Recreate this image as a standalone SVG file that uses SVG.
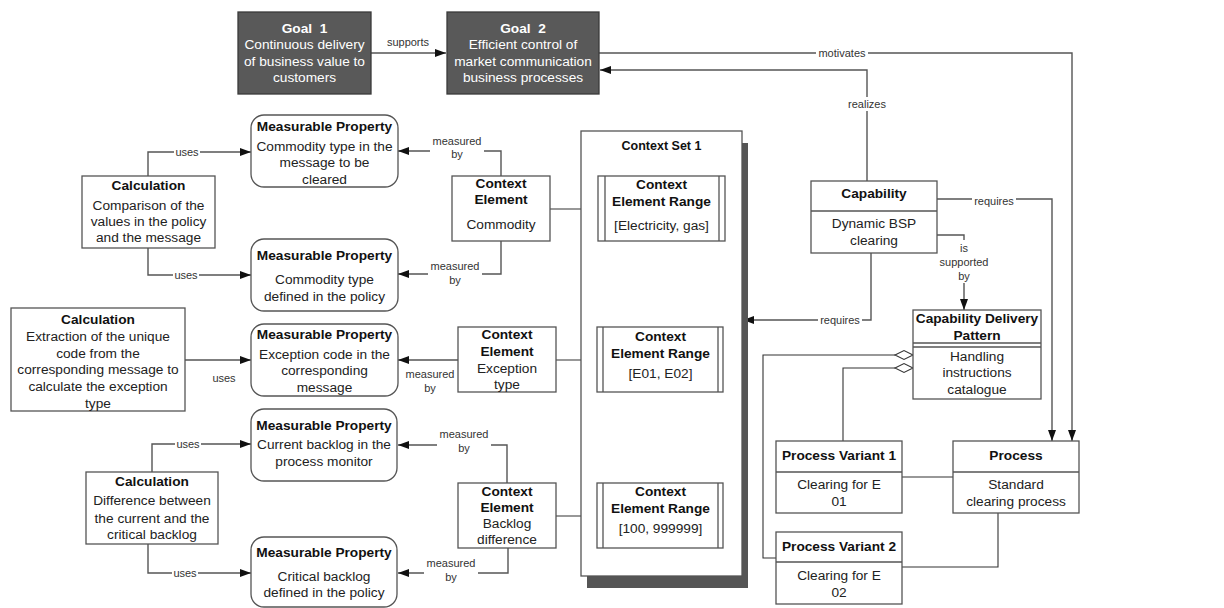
<svg xmlns="http://www.w3.org/2000/svg" width="1224" height="608" viewBox="0 0 1224 608">
<style>
.t{font-family:"Liberation Sans",Arial,sans-serif;font-size:13.7px;text-anchor:middle;fill:#222}
.b{font-weight:bold;fill:#111}
.w{fill:#fff}
.l{font-family:"Liberation Sans",Arial,sans-serif;font-size:11px;text-anchor:middle;fill:#333}
.box{fill:#fff;stroke:#555;stroke-width:1.3}
.goal{fill:#595959;stroke:#3a3a3a;stroke-width:1.3}
.c{fill:none;stroke:#555;stroke-width:1.4}
.k{fill:none;stroke:#333;stroke-width:1.1}
.lb{fill:#fff}
.dv{stroke:#555;stroke-width:1.3}
</style>
<defs>
<marker id="ah" markerUnits="userSpaceOnUse" markerWidth="11" markerHeight="8" refX="11" refY="4" orient="auto">
<path d="M0,0 L11,4 L0,8 z" fill="#111"/>
</marker>
</defs>

<g id="connectors">
<path class="c" d="M371,53 H446" marker-end="url(#ah)"/>
<text class="l" x="408" y="46">supports</text>
<path class="c" d="M599,53 H1072 V441" marker-end="url(#ah)"/>
<rect class="lb" x="816" y="47" width="52" height="12"/>
<text class="l" x="842" y="57">motivates</text>
<path class="c" d="M867,181 V70 H600" marker-end="url(#ah)"/>
<rect class="lb" x="845" y="97" width="44" height="14"/>
<text class="l" x="867" y="108">realizes</text>
<path class="c" d="M937,199 H1052 V441" marker-end="url(#ah)"/>
<rect class="lb" x="972" y="194" width="44" height="12"/>
<text class="l" x="994" y="205">requires</text>
<path class="c" d="M937,235 H964 V310" marker-end="url(#ah)"/>
<rect class="lb" x="938" y="240" width="52" height="43"/>
<text class="l" x="964" y="252">is</text>
<text class="l" x="964" y="266">supported</text>
<text class="l" x="964" y="280">by</text>
<path class="c" d="M871,253 V320 H743" marker-end="url(#ah)"/>
<rect class="lb" x="818" y="314" width="44" height="12"/>
<text class="l" x="840" y="324">requires</text>

<path class="k" d="M895,355 H763 V558 H776"/>
<path class="k" d="M895,368 H843 V441"/>
<polygon points="895,355 904,350.5 913,355 904,359.5" fill="#fff" stroke="#333" stroke-width="1.1"/>
<polygon points="895,368 904,363.5 913,368 904,372.5" fill="#fff" stroke="#333" stroke-width="1.1"/>
<path class="k" d="M902,477 H953"/>
<path class="k" d="M998,513 V567 H902"/>

<path class="k" d="M550,209 H598"/>
<path class="k" d="M556,360 H597"/>
<path class="k" d="M556,516 H597"/>

<path class="c" d="M501,176 V151 H398" marker-end="url(#ah)"/>
<rect class="lb" x="430" y="133" width="54" height="26"/>
<text class="l" x="457" y="145">measured</text>
<text class="l" x="457" y="158">by</text>
<path class="c" d="M501,241 V274 H398" marker-end="url(#ah)"/>
<rect class="lb" x="428" y="259" width="54" height="27"/>
<text class="l" x="455" y="270">measured</text>
<text class="l" x="455" y="284">by</text>
<path class="c" d="M458,360 H398" marker-end="url(#ah)"/>
<text class="l" x="430" y="378">measured</text>
<text class="l" x="430" y="392">by</text>
<path class="c" d="M507,483 V445 H398" marker-end="url(#ah)"/>
<rect class="lb" x="437" y="427" width="54" height="27"/>
<text class="l" x="464" y="438">measured</text>
<text class="l" x="464" y="452">by</text>
<path class="c" d="M508,548 V573 H398" marker-end="url(#ah)"/>
<rect class="lb" x="424" y="556" width="54" height="27"/>
<text class="l" x="451" y="567">measured</text>
<text class="l" x="451" y="581">by</text>

<path class="c" d="M148,176 V152 H251" marker-end="url(#ah)"/>
<rect class="lb" x="174" y="146" width="26" height="12"/>
<text class="l" x="187" y="156">uses</text>
<path class="c" d="M148,248 V275 H251" marker-end="url(#ah)"/>
<rect class="lb" x="173" y="269" width="26" height="12"/>
<text class="l" x="186" y="279">uses</text>
<path class="c" d="M185,360 H251" marker-end="url(#ah)"/>
<text class="l" x="224" y="382">uses</text>
<path class="c" d="M152,472 V444 H251" marker-end="url(#ah)"/>
<rect class="lb" x="175" y="438" width="26" height="12"/>
<text class="l" x="188" y="448">uses</text>
<path class="c" d="M148,544 V573 H251" marker-end="url(#ah)"/>
<rect class="lb" x="172" y="567" width="26" height="12"/>
<text class="l" x="185" y="577">uses</text>
</g>

<g id="goal1">
<rect class="goal" x="238" y="12" width="133" height="82"/>
<text class="t b w" x="304.5" y="33" style="white-space:pre">Goal  1</text>
<text class="t w" x="304.5" y="49">Continuous delivery</text>
<text class="t w" x="304.5" y="66">of business value to</text>
<text class="t w" x="304.5" y="82">customers</text>
</g>
<g id="goal2">
<rect class="goal" x="447" y="12" width="152" height="82"/>
<text class="t b w" x="523" y="33" style="white-space:pre">Goal  2</text>
<text class="t w" x="523" y="49">Efficient control of</text>
<text class="t w" x="523" y="66">market communication</text>
<text class="t w" x="523" y="82">business processes</text>
</g>

<g id="mp1">
<rect class="box" x="251" y="115" width="147" height="72" rx="13"/>
<text class="t b" x="324.5" y="131">Measurable Property</text>
<text class="t" x="324.5" y="151">Commodity type in the</text>
<text class="t" x="324.5" y="167">message to be</text>
<text class="t" x="324.5" y="184">cleared</text>
</g>
<g id="mp2">
<rect class="box" x="251" y="239" width="147" height="72" rx="13"/>
<text class="t b" x="324.5" y="260">Measurable Property</text>
<text class="t" x="324.5" y="284">Commodity type</text>
<text class="t" x="324.5" y="301">defined in the policy</text>
</g>
<g id="mp3">
<rect class="box" x="251" y="324" width="147" height="72" rx="13"/>
<text class="t b" x="324.5" y="339">Measurable Property</text>
<text class="t" x="324.5" y="359">Exception code in the</text>
<text class="t" x="324.5" y="375">corresponding</text>
<text class="t" x="324.5" y="392">message</text>
</g>
<g id="mp4">
<rect class="box" x="251" y="409" width="146" height="72" rx="13"/>
<text class="t b" x="324" y="430">Measurable Property</text>
<text class="t" x="324" y="449">Current backlog in the</text>
<text class="t" x="324" y="466">process monitor</text>
</g>
<g id="mp5">
<rect class="box" x="251" y="537" width="146" height="70" rx="13"/>
<text class="t b" x="324" y="557">Measurable Property</text>
<text class="t" x="324" y="581">Critical backlog</text>
<text class="t" x="324" y="597">defined in the policy</text>
</g>

<g id="calc1">
<rect class="box" x="82" y="176" width="133" height="72"/>
<text class="t b" x="148.5" y="190">Calculation</text>
<text class="t" x="148.5" y="210">Comparison of the</text>
<text class="t" x="148.5" y="226">values in the policy</text>
<text class="t" x="148.5" y="242">and the message</text>
</g>
<g id="calc2">
<rect class="box" x="11" y="308" width="174" height="103"/>
<text class="t b" x="98" y="324">Calculation</text>
<text class="t" x="98" y="341">Extraction of the unique</text>
<text class="t" x="98" y="358">code from the</text>
<text class="t" x="98" y="374">corresponding message to</text>
<text class="t" x="98" y="391">calculate the exception</text>
<text class="t" x="98" y="408">type</text>
</g>
<g id="calc3">
<rect class="box" x="86" y="472" width="132" height="72"/>
<text class="t b" x="152" y="486">Calculation</text>
<text class="t" x="152" y="505">Difference between</text>
<text class="t" x="152" y="523">the current and the</text>
<text class="t" x="152" y="539">critical backlog</text>
</g>

<g id="ce1">
<rect class="box" x="452" y="176" width="98" height="65"/>
<text class="t b" x="501" y="188">Context</text>
<text class="t b" x="501" y="204">Element</text>
<text class="t" x="501" y="229">Commodity</text>
</g>
<g id="ce2">
<rect class="box" x="458" y="327" width="98" height="65"/>
<text class="t b" x="507" y="339">Context</text>
<text class="t b" x="507" y="356">Element</text>
<text class="t" x="507" y="373">Exception</text>
<text class="t" x="507" y="389">type</text>
</g>
<g id="ce3">
<rect class="box" x="458" y="483" width="98" height="65"/>
<text class="t b" x="507" y="496">Context</text>
<text class="t b" x="507" y="512">Element</text>
<text class="t" x="507" y="528">Backlog</text>
<text class="t" x="507" y="544">difference</text>
</g>

<g id="contextset1">
<rect x="587" y="143" width="161" height="445" fill="#555"/>
<rect class="box" x="581" y="131" width="161" height="445"/>
<text class="t b" x="661.5" y="150" style="font-size:12.5px">Context Set 1</text>
</g>
<g id="cer1">
<rect class="box" x="598" y="176" width="127" height="65"/>
<path class="dv" d="M605,176 V241 M719,176 V241"/>
<text class="t b" x="661.5" y="189">Context</text>
<text class="t b" x="661.5" y="206">Element Range</text>
<text class="t" x="661.5" y="230">[Electricity, gas]</text>
</g>
<g id="cer2">
<rect class="box" x="597" y="327" width="126" height="65"/>
<path class="dv" d="M603,327 V392 M718,327 V392"/>
<text class="t b" x="660.5" y="341">Context</text>
<text class="t b" x="660.5" y="358">Element Range</text>
<text class="t" x="660.5" y="378">[E01, E02]</text>
</g>
<g id="cer3">
<rect class="box" x="597" y="483" width="126" height="65"/>
<path class="dv" d="M603,483 V548 M718,483 V548"/>
<text class="t b" x="660.5" y="496">Context</text>
<text class="t b" x="660.5" y="513">Element Range</text>
<text class="t" x="660.5" y="533">[100, 999999]</text>
</g>

<g id="capability">
<rect class="box" x="811" y="181" width="126" height="72"/>
<path class="dv" d="M811,211 H937"/>
<text class="t b" x="874" y="198">Capability</text>
<text class="t" x="874" y="228">Dynamic BSP</text>
<text class="t" x="874" y="245">clearing</text>
</g>
<g id="cdp">
<rect class="box" x="913" y="310" width="128" height="89"/>
<path class="dv" d="M913,343 H1041 M913,347 H1041"/>
<text class="t b" x="977" y="323">Capability Delivery</text>
<text class="t b" x="977" y="340">Pattern</text>
<text class="t" x="977" y="361">Handling</text>
<text class="t" x="977" y="377">instructions</text>
<text class="t" x="977" y="394">catalogue</text>
</g>
<g id="pv1">
<rect class="box" x="776" y="441" width="126" height="72"/>
<path class="dv" d="M776,472 H902"/>
<text class="t b" x="839" y="460">Process Variant 1</text>
<text class="t" x="839" y="489">Clearing for E</text>
<text class="t" x="839" y="506">01</text>
</g>
<g id="process">
<rect class="box" x="953" y="441" width="126" height="72"/>
<path class="dv" d="M953,472 H1079"/>
<text class="t b" x="1016" y="460">Process</text>
<text class="t" x="1016" y="489">Standard</text>
<text class="t" x="1016" y="506">clearing process</text>
</g>
<g id="pv2">
<rect class="box" x="776" y="532" width="126" height="72"/>
<path class="dv" d="M776,562 H902"/>
<text class="t b" x="839" y="551">Process Variant 2</text>
<text class="t" x="839" y="580">Clearing for E</text>
<text class="t" x="839" y="597">02</text>
</g>
</svg>
